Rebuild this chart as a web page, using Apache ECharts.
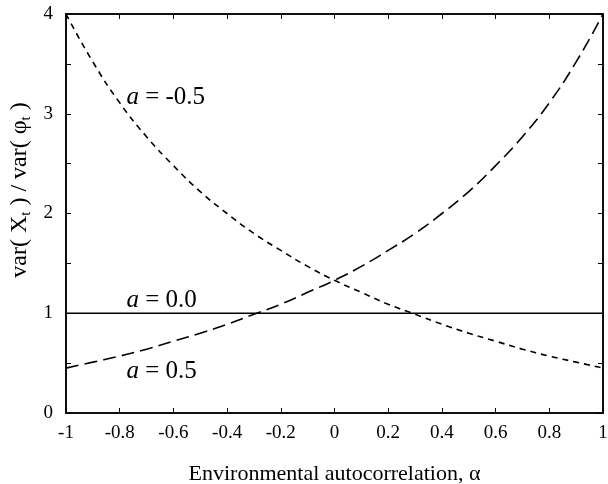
<!DOCTYPE html>
<html>
<head>
<meta charset="utf-8">
<script src="https://cdn.jsdelivr.net/npm/echarts@6/dist/echarts.min.js"></script>
<style>
  html, body { margin: 0; padding: 0; background: #fff; }
  #chart { width: 608px; height: 484px; }
</style>
</head>
<body>
<div id="chart"></div>
<script>
// environmental autocorrelation (x)
var alphas = [-1, -0.9, -0.8, -0.7, -0.6, -0.5, -0.4, -0.3, -0.2, -0.1, 0, 0.1, 0.2, 0.3, 0.4, 0.5, 0.6, 0.7, 0.8, 0.9, 1]
// var(X)/var(phi)
var aNeg = [4.0, 3.52, 3.11, 2.77, 2.48, 2.22, 2.0, 1.8, 1.63, 1.47, 1.33, 1.21, 1.09, 0.99, 0.89, 0.8, 0.72, 0.64, 0.57, 0.51, 0.45]
var aZero = [1, 1, 1, 1, 1, 1, 1, 1, 1, 1, 1, 1, 1, 1, 1, 1, 1, 1, 1, 1, 1]
var aPos = [0.45, 0.51, 0.57, 0.64, 0.72, 0.8, 0.89, 0.99, 1.09, 1.21, 1.33, 1.47, 1.63, 1.8, 2.0, 2.22, 2.48, 2.77, 3.11, 3.52, 4.0]
var curveNames = ['a = -0.5', 'a = 0.0', 'a = 0.5']

var serif = '"Liberation Serif", "Times New Roman", serif'

function pairs(ys) {
  return alphas.map(function (x, i) { return [x, ys[i]] })
}

var chart = echarts.init(document.getElementById('chart'))

var tickStyle = { show: true, inside: true, length: 5, lineStyle: { color: '#000', width: 1 } }
var lineStyle = { show: true, onZero: false, lineStyle: { color: '#000', width: 1.5 } }

chart.setOption({
  animation: false,
  backgroundColor: '#fff',
  grid: {
    left: 66, top: 14, right: 5, bottom: 71,
    outerBoundsMode: 'none',
    containLabel: false,
    show: true, borderColor: '#000', borderWidth: 1.5, backgroundColor: 'transparent'
  },
  xAxis: [{
    type: 'value',
    min: -1, max: 1, interval: 0.2,
    name: 'Environmental autocorrelation, α',
    nameLocation: 'middle',
    nameGap: 50,
    nameTextStyle: { fontFamily: serif, fontSize: 22, color: '#000' },
    axisLine: lineStyle,
    axisTick: tickStyle,
    splitLine: { show: false },
    axisLabel: {
      margin: 11, fontFamily: serif, fontSize: 19, color: '#000',
      formatter: function (v) { return String(Math.round(v * 10) / 10) }
    }
  }, {
    type: 'value', position: 'top',
    min: -1, max: 1, interval: 0.2,
    axisLine: lineStyle,
    axisTick: tickStyle,
    axisLabel: { show: false },
    splitLine: { show: false }
  }],
  yAxis: [{
    type: 'value',
    min: 0, max: 4, interval: 0.5,
    axisLine: lineStyle,
    axisTick: tickStyle,
    splitLine: { show: false },
    axisLabel: {
      margin: 13, fontFamily: serif, fontSize: 19, color: '#000',
      formatter: function (v) { return v % 1 === 0 ? String(v) : '' }
    }
  }, {
    type: 'value', position: 'right',
    min: 0, max: 4, interval: 0.5,
    axisLine: lineStyle,
    axisTick: tickStyle,
    axisLabel: { show: false },
    splitLine: { show: false }
  }],
  series: [{
    name: curveNames[0],
    type: 'line',
    smooth: true,
    symbol: 'none',
    data: pairs(aNeg),
    lineStyle: { color: '#000', width: 1.6, type: [6, 5] }
  }, {
    name: curveNames[1],
    type: 'line',
    symbol: 'none',
    data: pairs(aZero),
    lineStyle: { color: '#000', width: 1.6, type: 'solid' }
  }, {
    name: curveNames[2],
    type: 'line',
    smooth: true,
    symbol: 'none',
    data: pairs(aPos),
    lineStyle: { color: '#000', width: 1.6, type: [13, 6] }
  }]
})

// curve labels, placed in data coordinates
var labelAt = [[-0.775, 3.16], [-0.775, 1.13], [-0.775, 0.42]]
var graphics = curveNames.map(function (n, i) {
  var p = chart.convertToPixel({ gridIndex: 0 }, labelAt[i])
  return {
    type: 'text',
    x: p[0], y: p[1],
    style: {
      text: '{i|a}{r|' + n.slice(1) + '}',
      verticalAlign: 'middle',
      rich: {
        i: { fontFamily: serif, fontStyle: 'italic', fontSize: 25, fill: '#000' },
        r: { fontFamily: serif, fontSize: 25, fill: '#000' }
      }
    }
  }
})

// y axis title with subscripts
graphics.push({
  type: 'text',
  x: 20, y: 190,
  rotation: Math.PI / 2,
  style: {
    text: '{t|var( X}{s|t}{t| ) / var( φ}{s|t}{t| )}',
    align: 'center',
    verticalAlign: 'middle',
    rich: {
      t: { fontFamily: serif, fontSize: 24, fill: '#000', lineHeight: 28 },
      s: { fontFamily: serif, fontSize: 15, fill: '#000', verticalAlign: 'bottom', lineHeight: 28 }
    }
  }
})
chart.setOption({ graphic: graphics })
</script>
</body>
</html>
